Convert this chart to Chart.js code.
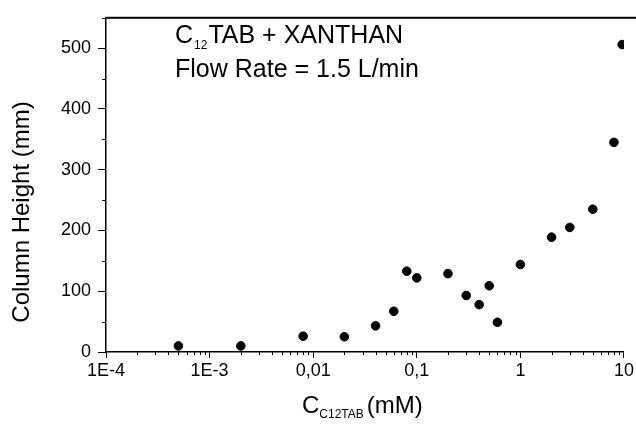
<!DOCTYPE html>
<html>
<head>
<meta charset="utf-8">
<script src="https://cdn.jsdelivr.net/npm/chart.js@4"></script>
<style>
  html, body { margin: 0; padding: 0; background: #fff; }
  #wrap { width: 636px; height: 424px; }
</style>
</head>
<body>
<div id="wrap"><canvas id="foamChart" width="636" height="424"></canvas></div>
<script>
/* Column height vs C12TAB concentration (xanthan, 1.5 L/min) */
const concentration = [0.0005, 0.002, 0.008, 0.02, 0.04, 0.06, 0.08, 0.1, 0.2, 0.3, 0.4, 0.5, 0.6, 1, 2, 3, 5, 8, 9.6];
const columnHeight  = [10, 10, 26, 25, 43, 67, 133, 122, 129, 93, 78, 109, 49, 144, 189, 205, 235, 345, 506];

const xTickValues = [1e-4, 1e-3, 1e-2, 1e-1, 1, 10];
const xTickLabels = ['1E-4', '1E-3', '0,01', '0,1', '1', '10'];
const yTickValues = [0, 100, 200, 300, 400, 500];
const yMinorTicks = [50, 150, 250, 350, 450, 550];

const FONT = 'Arial, "Liberation Sans", Helvetica, sans-serif';

// minor ticks, top frame line and the texts with subscripts
const extras = {
  id: 'extras',
  afterDraw(chart) {
    const { ctx, chartArea, scales } = chart;
    const x = scales.x, y = scales.y;
    ctx.save();
    ctx.fillStyle = '#000';
    ctx.strokeStyle = '#000';

    // top frame line
    ctx.fillRect(chartArea.left - 1, chartArea.top - 1, chart.width - chartArea.left + 1, 2);

    // x minor ticks
    ctx.lineWidth = 1;
    ctx.beginPath();
    for (let d = -4; d < 1; d++) {
      for (let k = 2; k <= 9; k++) {
        const px = Math.round(x.getPixelForValue(k * Math.pow(10, d))) + 0.5;
        ctx.moveTo(px, chartArea.bottom);
        ctx.lineTo(px, chartArea.bottom + 3);
      }
    }
    // y minor ticks
    yMinorTicks.forEach(v => {
      const py = Math.round(y.getPixelForValue(v)) + 0.5;
      ctx.moveTo(chartArea.left, py);
      ctx.lineTo(chartArea.left - 4, py);
    });
    ctx.stroke();

    ctx.textBaseline = 'alphabetic';
    ctx.textAlign = 'left';

    // annotation
    let tx = 175;
    ctx.font = '25px ' + FONT;
    ctx.fillText('C', tx, 43);
    tx += ctx.measureText('C').width + 1;
    ctx.font = '12px ' + FONT;
    ctx.fillText('12', tx, 49);
    tx += ctx.measureText('12').width + 1;
    ctx.font = '25px ' + FONT;
    ctx.fillText('TAB + XANTHAN', tx, 43);
    ctx.fillText('Flow Rate = 1.5 L/min', 175, 77);

    // x axis title
    tx = 302;
    ctx.font = '24px ' + FONT;
    ctx.fillText('C', tx, 413);
    tx += ctx.measureText('C').width;
    ctx.font = '12px ' + FONT;
    ctx.fillText('C12TAB', tx, 418);
    tx += ctx.measureText('C12TAB').width + 3;
    ctx.font = '24px ' + FONT;
    ctx.fillText('(mM)', tx, 413);

    // y axis title
    ctx.translate(29, 212);
    ctx.rotate(-Math.PI / 2);
    ctx.textAlign = 'center';
    ctx.font = '24px ' + FONT;
    ctx.fillText('Column Height (mm)', 0, 0);

    ctx.restore();
  }
};

new Chart(document.getElementById('foamChart').getContext('2d'), {
  type: 'scatter',
  data: {
    datasets: [{
      label: 'Column Height',
      data: concentration.map((c, i) => ({ x: c, y: columnHeight[i] })),
      backgroundColor: '#000',
      borderColor: '#000',
      pointRadius: 4.3,
      pointHoverRadius: 4.3,
    }]
  },
  options: {
    responsive: false,
    animation: false,
    layout: { padding: { top: 15, right: 10, left: 0, bottom: 0 } },
    plugins: {
      legend: { display: false },
      tooltip: { enabled: false }
    },
    scales: {
      x: {
        type: 'logarithmic',
        min: 1e-4,
        max: 10,
        afterBuildTicks: s => { s.ticks = xTickValues.map(v => ({ value: v })); },
        afterFit: s => { s.height = 72; },
        border: { color: '#000', width: 1.5 },
        grid: { drawOnChartArea: false, drawTicks: true, tickLength: 6, tickColor: '#000' },
        ticks: {
          color: '#000',
          font: { family: FONT, size: 18 },
          padding: 2,
          maxRotation: 0,
          autoSkip: false,
          callback: (v) => {
            const i = xTickValues.findIndex(t => Math.abs(t - v) / t < 1e-6);
            return i >= 0 ? xTickLabels[i] : '';
          }
        }
      },
      y: {
        min: 0,
        max: 550,
        afterBuildTicks: s => { s.ticks = yTickValues.map(v => ({ value: v })); },
        afterFit: s => { s.width = 106; },
        border: { color: '#000', width: 1.5 },
        grid: { drawOnChartArea: false, drawTicks: true, tickLength: 8, tickColor: '#000' },
        ticks: {
          color: '#000',
          font: { family: FONT, size: 18 },
          padding: 7
        }
      }
    }
  },
  plugins: [extras]
});
</script>
</body>
</html>
